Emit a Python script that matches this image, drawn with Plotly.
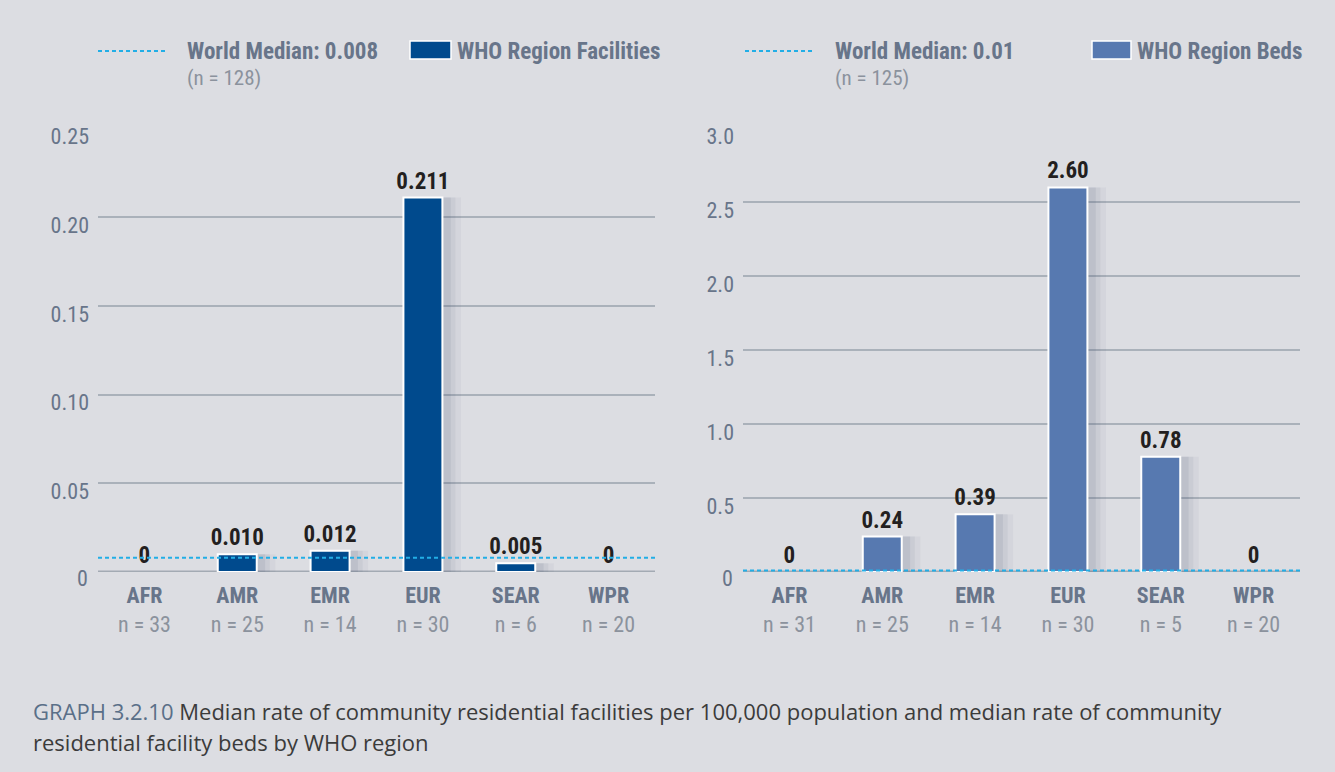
import plotly.graph_objects as go

W, H = 1335, 772

regions = ["AFR", "AMR", "EMR", "EUR", "SEAR", "WPR"]
n_facilities = [33, 25, 14, 30, 6, 20]
n_beds = [31, 25, 14, 30, 5, 20]
facilities = [0, 0.010, 0.012, 0.211, 0.005, 0]
beds = [0, 0.24, 0.39, 2.60, 0.78, 0]
world_median_fac = 0.008
world_median_beds = 0.01
n_world_fac = 128
n_world_beds = 125
yticks_fac = [0, 0.05, 0.10, 0.15, 0.20, 0.25]
yticks_fac_text = ["0", "0.05", "0.10", "0.15", "0.20", "0.25"]
yticks_beds = [0, 0.5, 1.0, 1.5, 2.0, 2.5, 3.0]
yticks_beds_text = ["0", "0.5", "1.0", "1.5", "2.0", "2.5", "3.0"]

BG = "#dcdde2"
FONT = "Liberation Sans Narrow, Roboto Condensed, Roboto, Arial"
CAPFONT = "Open Sans, Liberation Sans, Arial, sans-serif"
SLATE = "#68758a"
LIGHT = "#8b929d"
GRID = "#aab1ba"
DARK_BLUE = "#004a8d"
MID_BLUE = "#5779b0"
CYAN = "#22aee6"

def px_x(x):
    return x / W

def px_y(y):
    return 1 - y / H

xdom1 = [px_x(98), px_x(655)]
xdom2 = [px_x(743), px_x(1300)]
ydom = [px_y(572), px_y(128)]

def ticktext(ns):
    return [f"<b>{r}</b><br><span style='color:{LIGHT}'>n = {n}</span>" for r, n in zip(regions, ns)]

fig = go.Figure()

fac_text = ["0" if v == 0 else f"{v:.3f}" for v in facilities]
beds_text = ["0" if v == 0 else f"{v:.2f}" for v in beds]

BW = 0.42
for vals, txt, color, xa, ya in [
    (facilities, fac_text, DARK_BLUE, "x", "y"),
    (beds, beds_text, MID_BLUE, "x2", "y2"),
]:
    # soft drop shadow layers
    for w_extra, off, alpha in [(0.18, 0.02, 0.05), (0.11, 0.03, 0.07), (0.05, 0.04, 0.09)]:
        fig.add_trace(go.Bar(
            x=regions, y=vals, width=BW + w_extra, offset=-BW / 2 + off,
            marker=dict(color=f"rgba(70,80,115,{alpha})", line=dict(width=0)),
            hoverinfo="skip", xaxis=xa, yaxis=ya, showlegend=False,
        ))
    fig.add_trace(go.Bar(
        x=regions, y=vals, text=txt, textposition="outside",
        constraintext="none", width=BW, offset=-BW / 2,
        textfont=dict(family=FONT, size=23, color="#231f20", weight="bold"),
        marker=dict(color=color,
                    line=dict(color="white", width=[0 if v == 0 else 2 for v in vals])),
        cliponaxis=False, xaxis=xa, yaxis=ya, showlegend=False,
    ))

# world median lines
fig.add_shape(type="line", xref="x domain", yref="y", x0=0, x1=1,
              y0=world_median_fac, y1=world_median_fac,
              line=dict(color=CYAN, width=2, dash="4px,3px"), layer="above")
fig.add_shape(type="line", xref="x2 domain", yref="y2", x0=0, x1=1,
              y0=world_median_beds, y1=world_median_beds,
              line=dict(color=CYAN, width=2, dash="4px,3px"), layer="above")

# zero baselines
fig.add_shape(type="line", xref="x domain", yref="y", x0=0, x1=1, y0=0, y1=0,
              line=dict(color="#a3aab3", width=3), layer="below")
fig.add_shape(type="line", xref="x2 domain", yref="y2", x0=0, x1=1, y0=0, y1=0,
              line=dict(color="#a3aab3", width=3), layer="below")

common_x = dict(
    type="category", showgrid=False, zeroline=False, showline=False,
    ticks="", tickfont=dict(family=FONT, size=22, color=SLATE),
    ticklabelstandoff=8, automargin=False,
)
common_y = dict(
    showgrid=True, gridcolor=GRID, gridwidth=1.5,
    zeroline=False, showline=False, ticks="",
    tickfont=dict(family=FONT, size=22, color=SLATE),
    ticklabelshift=8, ticklabelstandoff=8, automargin=False,
)
fig.update_layout(
    template="none",
    xaxis=dict(domain=xdom1, anchor="y", tickvals=regions,
               ticktext=ticktext(n_facilities), **common_x),
    xaxis2=dict(domain=xdom2, anchor="y2", tickvals=regions,
                ticktext=ticktext(n_beds), **common_x),
    yaxis=dict(domain=ydom, anchor="x", range=[0, 0.2502],
               tickvals=yticks_fac[1:], ticktext=yticks_fac_text[1:], **common_y),
    yaxis2=dict(domain=ydom, anchor="x2", range=[0, 3.002],
                tickvals=yticks_beds[1:], ticktext=yticks_beds_text[1:], **common_y),
    width=W, height=H, margin=dict(l=0, r=0, t=0, b=0, pad=0, autoexpand=False),
    paper_bgcolor=BG, plot_bgcolor=BG, barmode="overlay", showlegend=False,
)

# "0" tick labels (drawn slightly lower, as in reference)
for xr in (90, 735):
    fig.add_annotation(xref="paper", yref="paper", x=px_x(xr), y=px_y(578),
                       text="0", showarrow=False, xanchor="right", yanchor="middle",
                       font=dict(family=FONT, size=22, color=SLATE))

# legends
def legend(x_line0, x_line1, x_text1, x_sw0, x_sw1, x_text2, median, n, label, color):
    fig.add_shape(type="line", xref="paper", yref="paper",
                  x0=px_x(x_line0), x1=px_x(x_line1), y0=px_y(51), y1=px_y(51),
                  line=dict(color=CYAN, width=2, dash="4px,3px"))
    fig.add_annotation(xref="paper", yref="paper", x=px_x(x_text1), y=px_y(51),
                       text=f"<b>World Median: {median}</b>", showarrow=False,
                       xanchor="left", yanchor="middle",
                       font=dict(family=FONT, size=23, color=SLATE))
    fig.add_annotation(xref="paper", yref="paper", x=px_x(x_text1), y=px_y(78),
                       text=f"(n = {n})", showarrow=False,
                       xanchor="left", yanchor="middle",
                       font=dict(family=FONT, size=21, color=LIGHT))
    fig.add_shape(type="rect", xref="paper", yref="paper",
                  x0=px_x(x_sw0), x1=px_x(x_sw1), y0=px_y(59), y1=px_y(41),
                  fillcolor=color, line=dict(color="white", width=1.5))
    fig.add_annotation(xref="paper", yref="paper", x=px_x(x_text2), y=px_y(51),
                       text=f"<b>{label}</b>", showarrow=False,
                       xanchor="left", yanchor="middle",
                       font=dict(family=FONT, size=23, color=SLATE))

legend(98, 166, 185, 410, 451, 455, "0.008", n_world_fac, "WHO Region Facilities", DARK_BLUE)
legend(745, 815, 833, 1092, 1131, 1135, "0.01", n_world_beds, "WHO Region Beds", MID_BLUE)

# caption
fig.add_annotation(xref="paper", yref="paper", x=px_x(31), y=px_y(711),
                   text=f"<span style='color:#5a6f88'>GRAPH 3.2.10</span> "
                        "Median rate of community residential facilities per 100,000 population and median rate of community",
                   showarrow=False, xanchor="left", yanchor="middle",
                   font=dict(family=CAPFONT, size=22, color="#3b3b3b"))
fig.add_annotation(xref="paper", yref="paper", x=px_x(31), y=px_y(742),
                   text="residential facility beds by WHO region",
                   showarrow=False, xanchor="left", yanchor="middle",
                   font=dict(family=CAPFONT, size=22, color="#3b3b3b"))

fig.write_html("out.html", config={"displayModeBar": False},
               post_script="document.body.style.margin='0';document.body.style.background='%s';" % BG)
